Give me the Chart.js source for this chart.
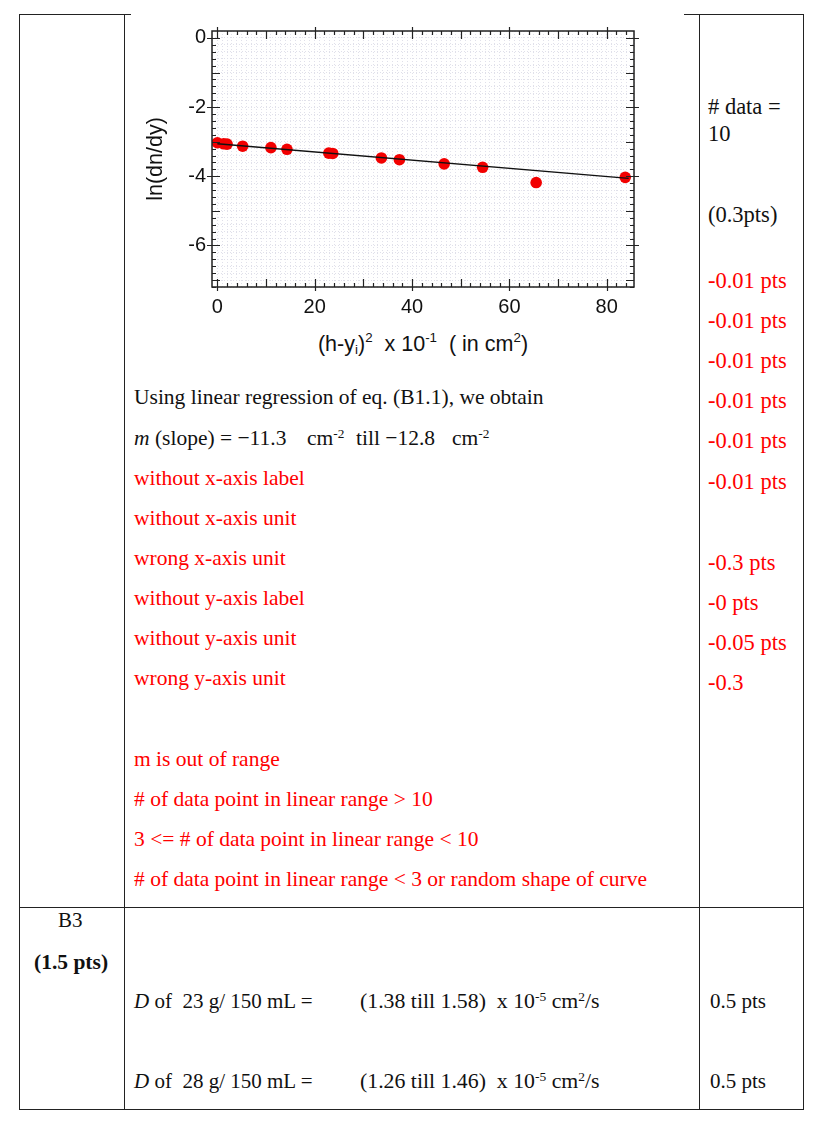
<!DOCTYPE html>
<html>
<head>
<meta charset="utf-8">
<script src="https://cdn.jsdelivr.net/npm/chart.js@4.4.1/dist/chart.umd.min.js"></script>
<style>
  html, body { margin: 0; padding: 0; background: #fff; }
  body { width: 824px; height: 1126px; position: relative; overflow: hidden;
         font-family: "Liberation Serif", "Times New Roman", serif; font-size: 21.5px; color: #111; }
  .ln { position: absolute; background: #222; }
  .t { position: absolute; line-height: 24px; white-space: pre; }
  .r { font-size: 22.5px; }
  .b3 { font-size: 21px; }
  .b3w { font-size: 21.8px; }
  .red { color: #f00; }
  sup { font-size: 0.62em; vertical-align: 0.5em; line-height: 0; }
  sub { font-size: 0.62em; vertical-align: -0.25em; line-height: 0; }
  #chartBox { position: absolute; left: 130px; top: 20px; width: 520px; height: 300px; }
  #xtitle { position: absolute; left: 423px; top: 331px; transform: translateX(-50%);
            font-family: "Liberation Sans", Arial, sans-serif; font-size: 21.5px; line-height: 26px;
            white-space: pre; color: #111; }
  #xtitle sup { vertical-align: 0.65em; }
</style>
</head>
<body>

<!-- table rules -->
<div class="ln" style="left:19px;top:14px;width:112px;height:1px"></div>
<div class="ln" style="left:684px;top:14px;width:120px;height:1px"></div>
<div class="ln" style="left:19px;top:14px;width:1px;height:1096px"></div>
<div class="ln" style="left:124px;top:14px;width:1px;height:1096px"></div>
<div class="ln" style="left:699px;top:14px;width:1px;height:1096px"></div>
<div class="ln" style="left:803px;top:14px;width:1px;height:1096px"></div>
<div class="ln" style="left:19px;top:907px;width:785px;height:1px"></div>
<div class="ln" style="left:19px;top:1109px;width:785px;height:1px"></div>

<div id="chartBox"><canvas id="plot"></canvas></div>
<div id="xtitle">(h-y<sub>i</sub>)<sup>2</sup>  x 10<sup>-1</sup>  ( in cm<sup>2</sup>)</div>

<!-- middle column -->
<div class="t" style="left:134px;top:385px">Using linear regression of eq. (B1.1), we obtain</div>
<div class="t" style="left:134px;top:426px"><i>m</i> (slope) = −11.3</div>
<div class="t" style="left:307px;top:426px">cm<sup>-2</sup></div>
<div class="t" style="left:356px;top:426px">till −12.8</div>
<div class="t" style="left:452px;top:426px">cm<sup>-2</sup></div>
<div class="t red" style="left:134px;top:466px">without x-axis label</div>
<div class="t red" style="left:134px;top:506px">without x-axis unit</div>
<div class="t red" style="left:134px;top:546px">wrong x-axis unit</div>
<div class="t red" style="left:134px;top:586px">without y-axis label</div>
<div class="t red" style="left:134px;top:626px">without y-axis unit</div>
<div class="t red" style="left:134px;top:666px">wrong y-axis unit</div>
<div class="t red" style="left:134px;top:747px">m is out of range</div>
<div class="t red" style="left:134px;top:787px"># of data point in linear range &gt; 10</div>
<div class="t red" style="left:134px;top:827px">3 &lt;= # of data point in linear range &lt; 10</div>
<div class="t red" style="left:134px;top:867px"># of data point in linear range &lt; 3 or random shape of curve</div>

<!-- right column -->
<div class="t r" style="left:708px;top:95px"># data =</div>
<div class="t r" style="left:708px;top:122px">10</div>
<div class="t r" style="left:708px;top:203px">(0.3pts)</div>
<div class="t r red" style="left:708px;top:269px">-0.01 pts</div>
<div class="t r red" style="left:708px;top:309px">-0.01 pts</div>
<div class="t r red" style="left:708px;top:349px">-0.01 pts</div>
<div class="t r red" style="left:708px;top:389px">-0.01 pts</div>
<div class="t r red" style="left:708px;top:429px">-0.01 pts</div>
<div class="t r red" style="left:708px;top:470px">-0.01 pts</div>
<div class="t r red" style="left:708px;top:551px">-0.3 pts</div>
<div class="t r red" style="left:708px;top:591px">-0 pts</div>
<div class="t r red" style="left:708px;top:631px">-0.05 pts</div>
<div class="t r red" style="left:708px;top:671px">-0.3</div>

<!-- B3 row -->
<div class="t b3" style="left:58px;top:908px">B3</div>
<div class="t" style="left:34px;top:950px"><b>(1.5 pts)</b></div>
<div class="t b3" style="left:134px;top:989px"><i>D</i> of  23 g/ 150 mL =</div>
<div class="t b3w" style="left:360px;top:989px">(1.38 till 1.58)  x 10<sup>-5</sup> cm<sup>2</sup>/s</div>
<div class="t b3" style="left:710px;top:989px">0.5 pts</div>
<div class="t b3" style="left:134px;top:1069px"><i>D</i> of  28 g/ 150 mL =</div>
<div class="t b3w" style="left:360px;top:1069px">(1.26 till 1.46)  x 10<sup>-5</sup> cm<sup>2</sup>/s</div>
<div class="t b3" style="left:710px;top:1069px">0.5 pts</div>

<script>
const xVals = [0, 1.3, 2.0, 5.2, 11.0, 14.3, 22.9, 23.7, 33.7, 37.4, 46.6, 54.5, 65.5, 83.8];
const yVals = [-3.03, -3.06, -3.07, -3.13, -3.17, -3.22, -3.33, -3.34, -3.47, -3.52, -3.64, -3.74, -4.18, -4.03];

// linear fit line end points
const fitX = [0, 84.5];
const fitY = [-3.06, -4.06];

// labelled ticks
const xLabelTicks = [0, 20, 40, 60, 80];
const yLabelTicks = [0, -2, -4, -6];

const xRange = [-1.1, 85.6];
const yRange = [-7.2, 0.2];

const axisFont = { family: '"Liberation Sans", Arial, sans-serif', size: 20 };

// frame with inward tick marks on all four sides, like the original plot
const frameTicks = {
  id: 'frameTicks',
  afterDraw(chart) {
    const { ctx, chartArea: a, scales: { x, y } } = chart;
    ctx.save();
    ctx.strokeStyle = '#222';
    ctx.lineWidth = 1.5;
    ctx.strokeRect(a.left, a.top, a.right - a.left, a.bottom - a.top);
    ctx.lineWidth = 1.2;
    ctx.beginPath();
    for (let v = 0; v <= xRange[1]; v += 2) {
      const px = Math.round(x.getPixelForValue(v)) + 0.5;
      const len = v % 10 === 0 ? 8 : 4;
      const out = xLabelTicks.includes(v) ? 4 : 0;
      ctx.moveTo(px, a.bottom + out); ctx.lineTo(px, a.bottom - len);
      ctx.moveTo(px, a.top - out); ctx.lineTo(px, a.top + len);
    }
    for (let k = 0; k <= 36; k++) {
      const v = -k * 0.2;
      const py = Math.round(y.getPixelForValue(v)) + 0.5;
      const major = k % 5 === 0;
      const len = major ? 8 : 4;
      const out = (major && yLabelTicks.includes(-k / 5)) ? 5 : 0;
      ctx.moveTo(a.left - out, py); ctx.lineTo(a.left + len, py);
      ctx.moveTo(a.right + out, py); ctx.lineTo(a.right - len, py);
    }
    ctx.stroke();
    ctx.restore();
  }
};

new Chart(document.getElementById('plot'), {
  type: 'scatter',
  data: {
    datasets: [
      {
        type: 'line',
        data: fitX.map((v, i) => ({ x: v, y: fitY[i] })),
        borderColor: '#111',
        borderWidth: 1.5,
        pointRadius: 0,
        order: 0
      },
      {
        data: xVals.map((v, i) => ({ x: v, y: yVals[i] })),
        backgroundColor: '#f20000',
        borderColor: '#f20000',
        borderWidth: 0,
        pointRadius: 5.8,
        order: 1
      }
    ]
  },
  options: {
    responsive: true,
    maintainAspectRatio: false,
    animation: false,
    layout: { padding: { top: 11, right: 16, left: 0, bottom: 0 } },
    plugins: { legend: { display: false }, tooltip: { enabled: false } },
    scales: {
      x: {
        type: 'linear',
        min: xRange[0],
        max: xRange[1],
        afterFit(scale) {
          scale.height = 33;
          scale.paddingLeft = 0;
          scale.paddingRight = 0;
        },
        grid: { color: '#e0e0ea', lineWidth: 1, drawTicks: false },
        border: { display: false, dash: [1, 2] },
        ticks: {
          stepSize: 1,
          maxTicksLimit: 500,
          autoSkip: false,
          maxRotation: 0,
          padding: 8,
          color: '#111',
          font: axisFont,
          callback: v => xLabelTicks.includes(v) ? String(v) : ''
        }
      },
      y: {
        type: 'linear',
        min: yRange[0],
        max: yRange[1],
        afterFit(scale) {
          scale.width = 82;
          scale.paddingTop = 0;
          scale.paddingBottom = 0;
        },
        grid: { color: '#e0e0ea', lineWidth: 1, drawTicks: false },
        border: { display: false, dash: [1, 2] },
        title: {
          display: true,
          text: 'ln(dn/dy)',
          color: '#111',
          font: { family: '"Liberation Sans", Arial, sans-serif', size: 21.5 },
          padding: { top: 13, bottom: 0 }
        },
        ticks: {
          stepSize: 0.2,
          maxTicksLimit: 500,
          autoSkip: false,
          padding: 6,
          color: '#111',
          font: axisFont,
          callback: v => yLabelTicks.includes(v) ? String(v) : ''
        }
      }
    }
  },
  plugins: [frameTicks]
});
</script>
</body>
</html>
